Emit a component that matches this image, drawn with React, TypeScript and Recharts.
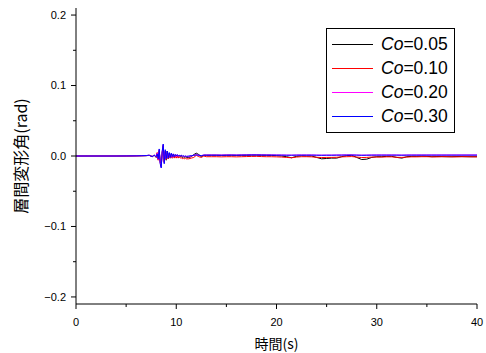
import { LineChart, Line, XAxis, YAxis } from 'recharts'

// time (s)
const times = [
  0, 1, 2, 3, 4, 5, 6, 6.5, 7, 7.3, 7.6, 7.8,
  8.0, 8.1, 8.2, 8.3, 8.4, 8.5, 8.6, 8.7, 8.8, 8.9,
  9.0, 9.1, 9.2, 9.3, 9.4, 9.5, 9.6, 9.7, 9.8, 9.9,
  10.0, 10.1, 10.2, 10.3, 10.4, 10.5, 10.6, 10.7, 10.8, 10.9, 11.0,
  11.25, 11.5, 11.75, 12.0, 12.25, 12.5, 12.75, 13.0,
  13.5, 14, 14.5, 15, 15.5, 16, 16.5, 17, 17.5, 18,
  18.5, 19, 19.5, 20, 20.5, 21, 21.5, 22, 22.5, 23,
  23.5, 24, 24.5, 25, 25.5, 26, 26.5, 27, 27.5, 28,
  28.5, 29, 29.5, 30, 30.5, 31, 31.5, 32, 32.5, 33,
  33.5, 34, 34.5, 35, 35.5, 36, 36.5, 37, 37.5, 38,
  38.5, 39, 39.5, 40,
]

// story drift angle (rad) for each Co
const co005 = [
  0, 0, 0, 0, 0, 0, 0.0002, 0.0003, 0.0005, 0.0008, -0.0005, 0.001,
  -0.002, 0.004, -0.005, 0.007, -0.008, -0.014, 0.004, 0.014, -0.008, 0.006,
  -0.006, 0.007, -0.004, 0.004, -0.003, 0.003, -0.003, 0.002, -0.002, 0.002,
  -0.002, 0.001, -0.002, 0.001, -0.001, 0.001, -0.002, -0.001, -0.002, -0.001, -0.002,
  -0.002, -0.001, 0.002, 0.004, 0.002, -0.001, 0.001, 0.001,
  0.001, 0.001, 0.0008, 0.001, 0.001, 0.0008, 0.001, 0.001, 0.0012, 0.0012,
  0.001, 0.001, 0.0008, 0.0005, 0, -0.001, -0.0025, -0.0005, 0.0003, 0,
  0, -0.002, -0.004, -0.0035, -0.003, -0.003, -0.001, 0.0005, 0.001, -0.002,
  -0.005, -0.0045, -0.002, -0.001, -0.001, -0.0005, -0.0005, -0.002, -0.003, -0.001,
  -0.0005, -0.0005, -0.0003, -0.0005, -0.001, -0.0008, -0.0008, -0.001, -0.001, -0.0008,
  -0.0008, -0.001, -0.001, -0.001,
]
const co010 = [
  0, 0, 0, 0, 0, 0, 0.0002, 0.0004, 0.0005, 0.001, -0.001, 0.0015,
  -0.002, 0.005, -0.006, 0.008, -0.009, -0.015, 0.005, 0.015, -0.009, 0.007,
  -0.005, 0.006, -0.004, 0.003, -0.003, 0.002, -0.003, 0.002, -0.003, 0.001,
  -0.003, 0, -0.003, -0.001, -0.003, -0.002, -0.004, -0.003, -0.004, -0.003, -0.004,
  -0.004, -0.003, -0.002, 0.001, -0.001, -0.002, 0, -0.001,
  -0.001, -0.001, -0.0012, -0.001, -0.001, -0.0012, -0.001, -0.0008, -0.0006, -0.0005,
  -0.0008, -0.001, -0.001, -0.0012, -0.0015, -0.002, -0.0025, -0.0015, -0.001, -0.001,
  -0.0012, -0.0018, -0.0022, -0.002, -0.002, -0.0018, -0.0012, -0.001, -0.0008, -0.0015,
  -0.0022, -0.002, -0.0015, -0.0015, -0.0015, -0.0012, -0.0012, -0.0018, -0.002, -0.0015,
  -0.0012, -0.0012, -0.001, -0.001, -0.0012, -0.0012, -0.001, -0.001, -0.0012, -0.0012,
  -0.001, -0.001, -0.0012, -0.0012,
]
const co020 = [
  0, 0, 0, 0, 0, 0.0001, 0.0002, 0.0004, 0.0006, 0.001, -0.0008, 0.0012,
  -0.001, 0.004, -0.005, 0.009, -0.01, -0.016, 0.006, 0.016, -0.01, 0.008,
  -0.004, 0.006, -0.003, 0.004, -0.002, 0.003, -0.002, 0.003, -0.001, 0.002,
  -0.001, 0.002, -0.001, 0.001, 0, 0.001, -0.001, 0, -0.001, 0, -0.001,
  -0.001, 0, 0.001, 0.002, 0.001, 0.0005, 0.0015, 0.0015,
  0.0015, 0.0015, 0.0014, 0.0016, 0.0016, 0.0015, 0.0016, 0.0017, 0.0018, 0.0018,
  0.0017, 0.0016, 0.0016, 0.0015, 0.0014, 0.0013, 0.0012, 0.0014, 0.0015, 0.0015,
  0.0015, 0.0013, 0.0012, 0.0013, 0.0013, 0.0014, 0.0015, 0.0016, 0.0016, 0.0014,
  0.0012, 0.0013, 0.0014, 0.0015, 0.0015, 0.0015, 0.0015, 0.0014, 0.0013, 0.0014,
  0.0015, 0.0015, 0.0015, 0.0015, 0.0015, 0.0015, 0.0015, 0.0015, 0.0015, 0.0015,
  0.0015, 0.0015, 0.0015, 0.0015,
]
const co030 = [
  0, 0, 0, 0, 0, 0.0001, 0.0002, 0.0004, 0.0006, 0.0012, -0.001, 0.001,
  -0.001, 0.003, -0.004, 0.01, -0.011, -0.017, 0.007, 0.017, -0.011, 0.009,
  -0.004, 0.007, -0.003, 0.005, -0.002, 0.004, -0.001, 0.003, -0.001, 0.002,
  0, 0.002, 0, 0.001, 0, 0.001, 0, 0.0005, -0.0005, 0, -0.0005,
  0, 0.0005, 0.001, 0.0015, 0.001, 0.0005, 0.0012, 0.0012,
  0.0012, 0.0012, 0.0011, 0.0012, 0.0013, 0.0012, 0.0013, 0.0014, 0.0015, 0.0015,
  0.0014, 0.0013, 0.0013, 0.0012, 0.0012, 0.0011, 0.0011, 0.0012, 0.0012, 0.0012,
  0.0012, 0.0011, 0.001, 0.0011, 0.0011, 0.0012, 0.0012, 0.0013, 0.0013, 0.0012,
  0.001, 0.0011, 0.0012, 0.0012, 0.0012, 0.0012, 0.0012, 0.0012, 0.0011, 0.0012,
  0.0012, 0.0012, 0.0012, 0.0012, 0.0012, 0.0012, 0.0012, 0.0012, 0.0012, 0.0012,
  0.0012, 0.0012, 0.0012, 0.0012,
]

const series = [
  { key: 'a', label: '0.05', color: '#000000', values: co005 },
  { key: 'b', label: '0.10', color: '#ff0000', values: co010 },
  { key: 'c', label: '0.20', color: '#ff00ff', values: co020 },
  { key: 'd', label: '0.30', color: '#0000ff', values: co030 },
]

const yTicks = [-0.2, -0.15, -0.1, -0.05, 0, 0.05, 0.1, 0.15, 0.2]
const xTicks = [0, 5, 10, 15, 20, 25, 30, 35, 40]

const data = times.map((t, i) => {
  const row: Record<string, number> = { t }
  series.forEach((s) => { row[s.key] = s.values[i] })
  return row
})

const NUM_FONT = "'Liberation Sans', Arial, sans-serif"
const JP_FONT = "'Noto Sans CJK JP', sans-serif"

function YTick({ x, y, payload }: any) {
  const v = payload.value
  const major = Math.abs(v * 10 - Math.round(v * 10)) < 1e-6
  const ax = x + 8
  return (
    <g>
      <line x1={ax - (major ? 5 : 3)} x2={ax} y1={y} y2={y} stroke="#000" />
      {major && (
        <text x={ax - 10} y={y} dy="0.35em" textAnchor="end" fontSize={11} fontFamily={NUM_FONT} fill="#000">
          {v.toFixed(1).replace('-', '\u2212')}
        </text>
      )}
    </g>
  )
}

function XTick({ x, y, payload }: any) {
  const v = payload.value
  const major = v % 10 === 0
  const ay = y - 8
  return (
    <g>
      <line x1={x} x2={x} y1={ay} y2={ay + (major ? 5 : 3)} stroke="#000" />
      {major && (
        <text x={x} y={ay + 14} dy="0.71em" textAnchor="middle" fontSize={11} fontFamily={NUM_FONT} fill="#000">
          {v}
        </text>
      )}
    </g>
  )
}

// legend box drawn over the plot, top right
function LegendBox() {
  return (
    <div
      style={{
        position: 'absolute', left: 326, top: 28, width: 127,
        border: '1px solid #000', padding: '3px 0 4px 0', background: '#fff',
      }}
    >
      {series.map((s) => (
        <div key={s.key} style={{ display: 'flex', alignItems: 'center', height: 24 }}>
          <div style={{ width: 41, height: 0, borderTop: `1px solid ${s.color}`, marginLeft: 5, marginRight: 8 }} />
          <span style={{ fontFamily: NUM_FONT, fontSize: 17.5, color: '#000', lineHeight: '24px' }}>
            <i>Co</i>={s.label}
          </span>
        </div>
      ))}
    </div>
  )
}

export default function App() {
  return (
    <div style={{ position: 'absolute', left: 0, top: 0, width: 486, height: 353, background: '#fff' }}>
      <LineChart width={486} height={353} data={data} margin={{ top: 8, right: 9, left: 0, bottom: 0 }}>
        <XAxis
          dataKey="t"
          type="number"
          domain={[0, 40]}
          ticks={xTicks}
          interval={0}
          height={49}
          tickSize={5}
          tickMargin={3}
          tickLine={false}
          tick={<XTick />}
          axisLine={{ stroke: '#000' }}
          label={{
            value: '時間(s)',
            position: 'insideBottom',
            offset: 4,
            fontSize: 14,
            fontFamily: JP_FONT,
            fill: '#000',
          }}
        />
        <YAxis
          type="number"
          domain={[-0.21, 0.21]}
          allowDataOverflow
          ticks={yTicks}
          interval={0}
          width={76}
          tickSize={5}
          tickMargin={3}
          tickLine={false}
          tick={<YTick />}
          axisLine={{ stroke: '#000' }}
          label={{
            content: (props: any) => {
              const vb = props.viewBox || { x: 0, y: 8, width: 76, height: 296 }
              const cx = vb.x + 20
              const cy = vb.y + vb.height / 2
              return (
                <text
                  x={cx}
                  y={cy}
                  transform={`rotate(-90 ${cx} ${cy})`}
                  textAnchor="middle"
                  dominantBaseline="central"
                  fontSize={16}
                  fontFamily={JP_FONT}
                  fill="#000"
                >
                  層間変形角(rad)
                </text>
              )
            },
          }}
        />
        {series.map((s) => (
          <Line
            key={s.key}
            type="linear"
            dataKey={s.key}
            name={s.label}
            stroke={s.color}
            strokeWidth={1}
            dot={false}
            isAnimationActive={false}
          />
        ))}
      </LineChart>
      <LegendBox />
    </div>
  )
}
